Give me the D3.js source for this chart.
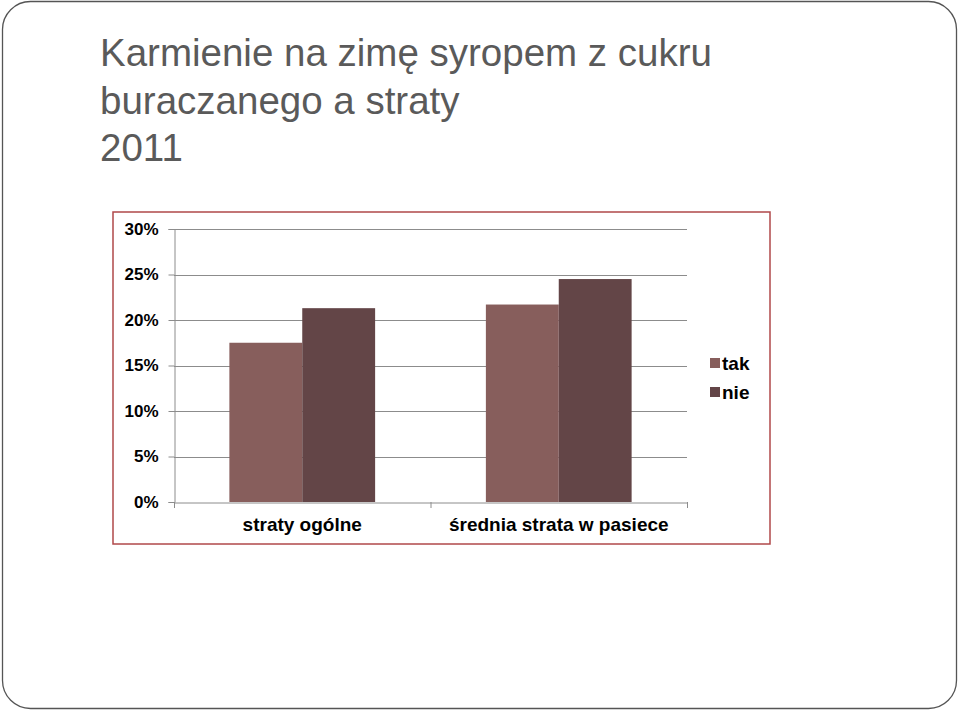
<!DOCTYPE html>
<html>
<head>
<meta charset="utf-8">
<script src="https://cdn.jsdelivr.net/npm/d3@7"></script>
<style>
  html, body { margin: 0; padding: 0; background: #fff; }
  svg { display: block; }
</style>
</head>
<body>
<svg id="chart" width="960" height="712"></svg>
<script>
const titleLines = ["Karmienie na zimę syropem z cukru", "buraczanego a straty", "2011"];
const categories = ["straty ogólne", "średnia strata w pasiece"];
const seriesNames = ["tak", "nie"];
const seriesTak = [0.175, 0.217];
const seriesNie = [0.213, 0.245];
const yTicks = [0, 0.05, 0.10, 0.15, 0.20, 0.25, 0.30];
const colors = ["#875e5c", "#634547"];

const svg = d3.select("#chart");

// slide frame
svg.append("rect")
  .attr("x", 2.5).attr("y", 1.5).attr("width", 954).attr("height", 707)
  .attr("rx", 28).attr("ry", 28)
  .attr("fill", "#fff").attr("stroke", "#555").attr("stroke-width", 1.3);

// title
svg.append("g").selectAll("text").data(titleLines).join("text")
  .attr("x", 100).attr("y", (d, i) => 66 + i * 47.5)
  .attr("font-family", "Liberation Sans, Arial, sans-serif")
  .attr("font-size", 38.5)
  .attr("fill", "#5a5a5a")
  .text(d => d);

// chart frame
svg.append("rect")
  .attr("x", 113).attr("y", 212).attr("width", 657).attr("height", 332)
  .attr("fill", "#fff").attr("stroke", "#b0484a").attr("stroke-width", 1.5);

const margin = { left: 174, right: 687, top: 229, bottom: 502 };

const x0 = d3.scaleBand().domain(categories).range([margin.left, margin.right]).paddingInner(0).paddingOuter(0);
const x1 = d3.scaleBand().domain(seriesNames).range([0, x0.bandwidth()]).paddingInner(0).paddingOuter(0.76);
const y = d3.scaleLinear().domain([0, 0.30]).range([margin.bottom, margin.top]);

const font = "Liberation Sans, Arial, sans-serif";

// gridlines
svg.append("g").selectAll("line").data(yTicks.slice(1)).join("line")
  .attr("x1", margin.left).attr("x2", margin.right)
  .attr("y1", d => Math.round(y(d)) + 0.5).attr("y2", d => Math.round(y(d)) + 0.5)
  .attr("stroke", "#8c8c8c").attr("stroke-width", 1);

// bars
const rows = categories.map((c, i) => ({ cat: c, vals: [seriesTak[i], seriesNie[i]] }));
svg.append("g").selectAll("g").data(rows).join("g")
  .attr("transform", d => `translate(${x0(d.cat)},0)`)
  .selectAll("rect").data(d => d.vals.map((v, j) => ({ key: seriesNames[j], v, j })))
  .join("rect")
  .attr("x", d => x1(d.key)).attr("width", x1.bandwidth())
  .attr("y", d => y(d.v)).attr("height", d => y(0) - y(d.v))
  .attr("fill", d => colors[d.j]);

// y axis
const yAxis = svg.append("g")
  .attr("transform", `translate(${margin.left + 0.5},0)`)
  .call(d3.axisLeft(y).tickValues(yTicks).tickFormat(d3.format(".0%")).tickSize(6).tickPadding(10));
yAxis.select(".domain").attr("stroke", "#8c8c8c");
yAxis.selectAll(".tick line").attr("stroke", "#8c8c8c");
yAxis.selectAll(".tick text")
  .attr("font-family", font).attr("font-size", 17).attr("font-weight", "bold").attr("fill", "#000");

// x axis
const xAxis = svg.append("g")
  .attr("transform", `translate(0,${margin.bottom + 0.5})`)
  .call(d3.axisBottom(x0).tickSize(0).tickPadding(15));
xAxis.select(".domain").attr("stroke", "#8c8c8c");
xAxis.selectAll(".tick text")
  .attr("font-family", font).attr("font-size", 19).attr("font-weight", "bold").attr("fill", "#000");
// category boundary ticks
const bounds = [margin.left, margin.left + x0.bandwidth(), margin.right];
svg.append("g").selectAll("line").data(bounds).join("line")
  .attr("x1", d => d + 0.5).attr("x2", d => d + 0.5)
  .attr("y1", margin.bottom).attr("y2", margin.bottom + 6)
  .attr("stroke", "#8c8c8c");

// legend
const legend = svg.append("g").selectAll("g").data(seriesNames).join("g")
  .attr("transform", (d, i) => `translate(710,${358 + i * 29})`);
legend.append("rect").attr("width", 10).attr("height", 10).attr("fill", (d, i) => colors[i]);
legend.append("text").attr("x", 12).attr("y", 12)
  .attr("font-family", font).attr("font-size", 19).attr("font-weight", "bold").attr("fill", "#000")
  .text(d => d);
</script>
</body>
</html>
